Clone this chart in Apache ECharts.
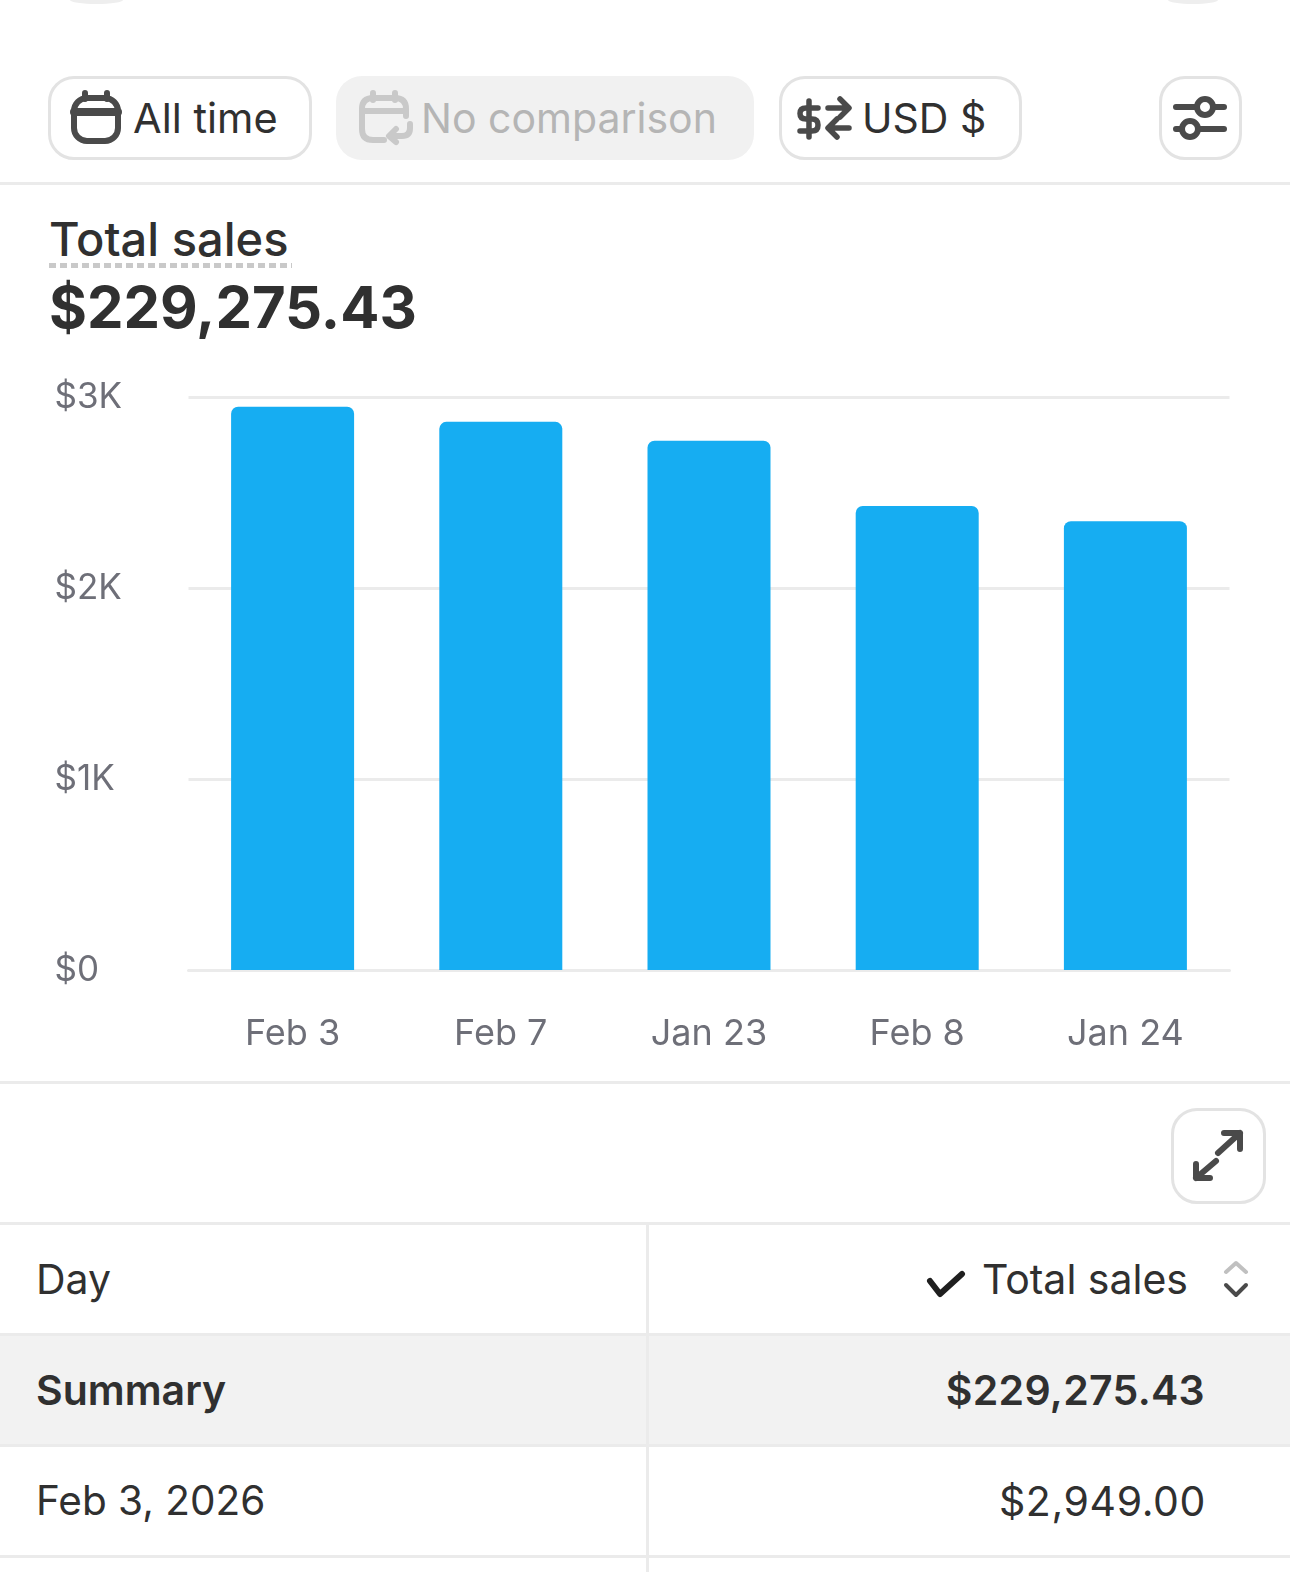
<!DOCTYPE html>
<html>
<head>
<meta charset="utf-8">
<title>Total sales</title>
<script src="https://cdn.jsdelivr.net/npm/echarts@6/dist/echarts.min.js"></script>
<style>
  html, body { margin: 0; padding: 0; background: #fff; }
  body { width: 1290px; height: 1572px; position: relative; overflow: hidden; font-family: Inter, "Noto Sans", sans-serif; color: #303030; }
  .abs { position: absolute; white-space: nowrap; }
  .btn { position: absolute; box-sizing: border-box; border: 3px solid #e3e3e3; border-radius: 26px; background: #fff; }
  .btn.off { border: 0; background: #f1f1f1; }
  .line { position: absolute; background: #ebebeb; }
  svg { position: absolute; fill: none; stroke-linecap: round; stroke-linejoin: round; }
  #chart { position: absolute; left: 0; top: 360px; width: 1290px; height: 720px; }
</style>
</head>
<body>
<div class="abs" style="left:70px;top:-4px;width:53px;height:8px;border-radius:50%;background:#eeeeee"></div>
<div class="abs" style="left:1168px;top:-4px;width:50px;height:8px;border-radius:50%;background:#eeeeee"></div>

<!-- 顶部按钮 -->
<div class="btn" style="left:48px;top:76px;width:264px;height:84px"></div>
<svg style="left:70px;top:90px" width="52" height="54" stroke="#4a4a4a" stroke-width="6">
  <rect x="4" y="8" width="44" height="43" rx="13"/><path d="M4 22H48" stroke-width="8"/><path d="M15 3V9M37 3V9"/>
</svg>
<div class="abs" style="left:133px;top:92px;font-size:41.5px;line-height:52px">All time</div>

<div class="btn off" style="left:336px;top:76px;width:418px;height:84px"></div>
<svg style="left:358px;top:90px" width="58" height="56" stroke="#c9c9c9" stroke-width="6">
  <path d="M26 50H15Q4 50 4 39V19Q4 8 15 8H37Q48 8 48 19V26M4 21H48"/><path d="M15 3V10M37 3V10"/><path d="M52 34V38Q52 46 44 46H32M38 39L31 46L38 52"/>
</svg>
<div class="abs" style="left:421px;top:92px;font-size:41px;line-height:52px;color:#b5b5b5">No comparison</div>

<div class="btn" style="left:779px;top:76px;width:243px;height:84px"></div>
<svg style="left:797px;top:95px" width="58" height="48" stroke="#4a4a4a" stroke-width="5.5">
  <path d="M21 13H9Q3 13 3 18.5Q3 24 9 24H15Q21 24 21 30Q21 36 15 36H3M12 6V42"/><path d="M31 13H51M43 4L52 13L43 22"/><path d="M52 33H32M40 24L31 33L40 42"/>
</svg>
<div class="abs" style="left:862px;top:92px;font-size:41px;line-height:52px">USD $</div>

<div class="btn" style="left:1159px;top:76px;width:83px;height:84px"></div>
<svg style="left:1172px;top:93px" width="56" height="50" stroke="#4a4a4a" stroke-width="6">
  <path d="M4 14H24M42 14H52M4 36H9M27 36H52"/><circle cx="33" cy="14" r="8"/><circle cx="18" cy="36" r="8"/>
</svg>

<div class="line" style="left:0;top:182px;width:1290px;height:3px"></div>

<!-- 标题 -->
<div class="abs" style="left:49px;top:212px;font-size:47px;line-height:54px;font-weight:550">Total sales</div>
<div class="abs" style="left:49px;top:263px;width:243px;height:5px;background:repeating-linear-gradient(90deg,#c9c9c9 0 7px,transparent 7px 11px)"></div>
<div class="abs" id="total" style="left:49px;top:272px;font-size:58px;line-height:70px;font-weight:700"></div>

<div id="chart"></div>

<div class="line" style="left:0;top:1081px;width:1290px;height:3px"></div>

<!-- 展开按钮 -->
<div class="btn" style="left:1171px;top:1108px;width:95px;height:96px"></div>
<svg style="left:1190px;top:1128px" width="58" height="56" stroke="#4a4a4a" stroke-width="6">
  <path d="M28 25L50 5M34 5H50V21"/><path d="M26 33L6 50M6 36V50H20"/>
</svg>

<!-- 表格 -->
<div id="table"></div>

<script>
// 图表数据
const categories = ['Feb 3', 'Feb 7', 'Jan 23', 'Feb 8', 'Jan 24'];
const totalSales = [2949, 2870, 2771, 2429, 2350];
const yTicks = ['$0', '$1K', '$2K', '$3K'];
// 表格数据
const tableHead = ['Day', 'Total sales'];
const summaryRow = ['Summary', '$229,275.43'];
const firstRow = ['Feb 3, 2026', '$2,949.00'];

document.getElementById('total').textContent = summaryRow[1];

// 表格用绝对定位画
function addText(text, left, right, top, size, weight, spacing) {
  const d = document.createElement('div');
  d.className = 'abs';
  d.textContent = text;
  if (left !== null) d.style.left = left + 'px';
  if (right !== null) d.style.right = right + 'px';
  d.style.top = top + 'px';
  d.style.fontSize = size + 'px';
  d.style.lineHeight = '54px';
  d.style.fontWeight = weight;
  if (spacing) d.style.letterSpacing = spacing + 'px';
  document.getElementById('table').appendChild(d);
}
function addBox(left, top, width, height, color) {
  const d = document.createElement('div');
  d.className = 'line';
  d.style.cssText = 'left:' + left + 'px;top:' + top + 'px;width:' + width + 'px;height:' + height + 'px;background:' + color;
  document.getElementById('table').appendChild(d);
}
addBox(0, 1334, 1290, 111, '#f2f2f2');
[1222, 1333, 1444, 1555].forEach(function (y) { addBox(0, y, 1290, 3, '#ebebeb'); });
addBox(646, 1224, 3, 348, '#ebebeb');
addText(tableHead[0], 36, null, 1252, 41, 400);
addText(tableHead[1], null, 102, 1252, 41, 400);
addText(summaryRow[0], 36, null, 1363, 41, 600);
addText(summaryRow[1], null, 85, 1363, 41, 600, 0.3);
addText(firstRow[0], 36, null, 1474, 40.5, 400);
addText(firstRow[1], null, 84, 1474, 41, 400, 0.6);

const icons = document.createElementNS('http://www.w3.org/2000/svg', 'svg');
icons.setAttribute('width', '340');
icons.setAttribute('height', '60');
icons.style.left = '920px';
icons.style.top = '1250px';
icons.innerHTML = '<path d="M10 31L20 44L42 24" stroke="#1f1f1f" stroke-width="6"/>' +
  '<path d="M306 22L316 13L326 22" stroke="#c0c0c0" stroke-width="4"/>' +
  '<path d="M306 35L316 45L326 35" stroke="#4a4a4a" stroke-width="4"/>';
document.getElementById('table').appendChild(icons);

const chart = echarts.init(document.getElementById('chart'));
const option = {
  animation: false,
  grid: { left: 188.5, right: 60.5, top: 37, bottom: 110, containLabel: false },
  xAxis: {
    type: 'category',
    data: categories,
    axisLine: { lineStyle: { color: '#ebebeb', width: 3 } },
    axisTick: { show: false },
    axisLabel: { color: '#6e6f78', fontSize: 36, fontFamily: 'Inter', margin: 46 }
  },
  yAxis: {
    type: 'value',
    min: 0,
    max: 3000,
    interval: 1000,
    axisLine: { show: false },
    axisTick: { show: false },
    splitLine: { lineStyle: { color: '#ebebeb', width: 3 } },
    axisLabel: {
      color: '#6e6f78',
      fontSize: 35,
      fontFamily: 'Inter',
      align: 'left',
      margin: 134,
      padding: [0, 0, 8, 0],
      formatter: function (value) {
        return yTicks[value / 1000];
      }
    }
  },
  series: [{
    name: 'Total sales',
    type: 'bar',
    data: totalSales,
    barWidth: 123,
    itemStyle: { color: '#16adf2', borderRadius: [7, 7, 0, 0] }
  }]
};
chart.setOption(option);
</script>
</body>
</html>
